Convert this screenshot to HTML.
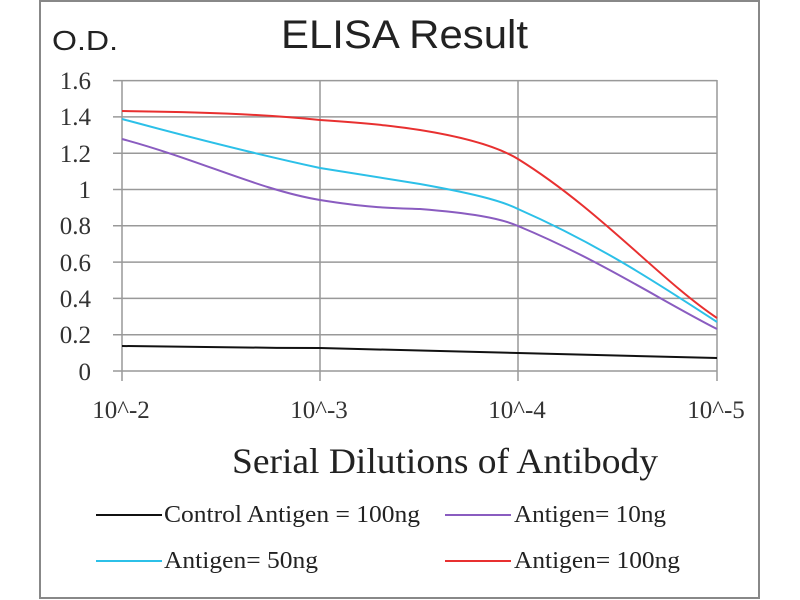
<!DOCTYPE html>
<html><head><meta charset="utf-8"><style>
body{margin:0;background:#fff;}
svg{display:block;}
</style></head><body>
<svg width="800" height="600" xmlns="http://www.w3.org/2000/svg">
<rect x="0" y="0" width="800" height="600" fill="#fff"/>
<rect x="40" y="1" width="719" height="597" fill="none" stroke="#888" stroke-width="2"/>
<text x="52" y="50" font-family="Liberation Sans, sans-serif" font-size="28" fill="#222" textLength="66" lengthAdjust="spacingAndGlyphs">O.D.</text>
<text x="281" y="48" font-family="Liberation Sans, sans-serif" font-size="40" fill="#222" textLength="247" lengthAdjust="spacingAndGlyphs">ELISA Result</text>
<g stroke="#999" stroke-width="1.5">
<line x1="113" y1="80.6" x2="717" y2="80.6"/>
<line x1="113" y1="116.9" x2="717" y2="116.9"/>
<line x1="113" y1="153.2" x2="717" y2="153.2"/>
<line x1="113" y1="189.5" x2="717" y2="189.5"/>
<line x1="113" y1="225.8" x2="717" y2="225.8"/>
<line x1="113" y1="262.1" x2="717" y2="262.1"/>
<line x1="113" y1="298.4" x2="717" y2="298.4"/>
<line x1="113" y1="334.7" x2="717" y2="334.7"/>
<line x1="113" y1="371" x2="717" y2="371"/>
<line x1="122" y1="80" x2="122" y2="381"/>
<line x1="320" y1="80" x2="320" y2="381"/>
<line x1="518" y1="80" x2="518" y2="381"/>
<line x1="717" y1="80" x2="717" y2="381"/>
</g>
<g font-family="Liberation Serif, serif" font-size="25" fill="#333" text-anchor="end">
<text x="91" y="89">1.6</text><text x="91" y="125">1.4</text><text x="91" y="162">1.2</text>
<text x="91" y="198">1</text><text x="91" y="234">0.8</text><text x="91" y="271">0.6</text>
<text x="91" y="307">0.4</text><text x="91" y="343">0.2</text><text x="91" y="380">0</text>
</g>
<g font-family="Liberation Serif, serif" font-size="25" fill="#333" text-anchor="middle">
<text x="121" y="418">10^-2</text><text x="319" y="418">10^-3</text>
<text x="517" y="418">10^-4</text><text x="716" y="418">10^-5</text>
</g>
<text x="232" y="473" font-family="Liberation Serif, serif" font-size="36" fill="#222" textLength="426" lengthAdjust="spacingAndGlyphs">Serial Dilutions  of Antibody</text>
<g fill="none" stroke-width="2">
<path d="M122,346 C220,347 260,348 320,348 C400,350 460,351 518,353 C600,355 660,357 717,358" stroke="#111"/>
<path d="M122,139 C200,160 260,190 320,200 C370,208 390,208 420,209 C470,213 500,218 518,226 C600,260 660,300 717,329" stroke="#8a5cc0"/>
<path d="M122,119 C200,140 260,155 320,168 C370,176 395,180 420,184 C470,193 500,200 518,209 C600,245 660,285 717,322" stroke="#2cc0e8"/>
<path d="M122,111 C200,112 260,114 320,120 C380,124 400,127 420,130 C470,138 500,148 518,159 C600,210 660,280 717,318" stroke="#e83030"/>
</g>
<g stroke-width="2">
<line x1="96" y1="515" x2="162" y2="515" stroke="#111"/>
<line x1="445" y1="515" x2="511" y2="515" stroke="#8a5cc0"/>
<line x1="96" y1="561" x2="162" y2="561" stroke="#2cc0e8"/>
<line x1="445" y1="561" x2="511" y2="561" stroke="#e83030"/>
</g>
<g font-family="Liberation Serif, serif" font-size="24" fill="#222">
<text x="164" y="522" textLength="256" lengthAdjust="spacingAndGlyphs">Control Antigen = 100ng</text>
<text x="514" y="522" textLength="152" lengthAdjust="spacingAndGlyphs">Antigen= 10ng</text>
<text x="164" y="568" textLength="154" lengthAdjust="spacingAndGlyphs">Antigen= 50ng</text>
<text x="514" y="568" textLength="166" lengthAdjust="spacingAndGlyphs">Antigen= 100ng</text>
</g>
</svg>
</body></html>
